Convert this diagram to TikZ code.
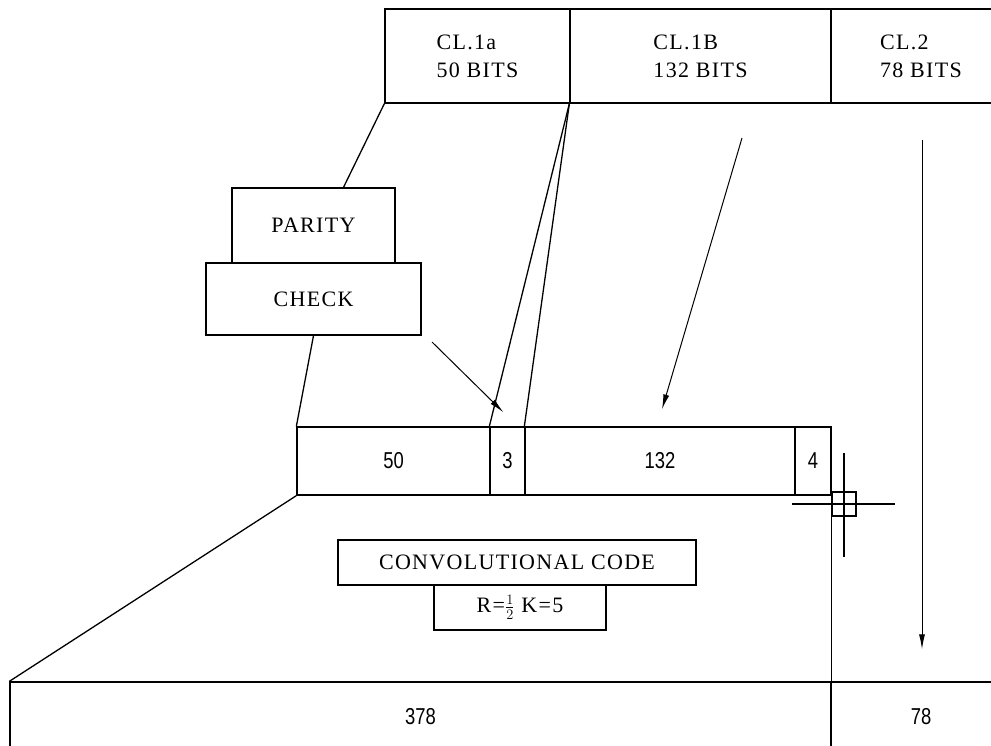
\documentclass[tikz,border=0pt]{standalone}
\usepackage{fontspec}
\setmainfont[LetterSpace=6]{Liberation Serif}
\newfontfamily\numfont[FakeStretch=0.8]{Liberation Sans}
\usetikzlibrary{arrows.meta,positioning,calc}

\begin{document}
\begin{tikzpicture}[x=1pt, y=-1pt,
    field/.style={draw, line width=1.3pt, inner sep=0pt, align=left,
      font=\fontsize{22}{28}\selectfont},
    cell/.style={draw, line width=1.3pt, inner sep=0pt, minimum height=68pt,
      font=\numfont\fontsize{23}{26}\selectfont},
    tag/.style={draw, line width=1.3pt, inner sep=0pt,
      font=\fontsize{22}{26}\selectfont},
    link/.style={line width=1.3pt},
    arr/.style={-{Latex[length=15pt,width=6pt]}, line width=1pt},
  ]
  \useasboundingbox (0,0) rectangle (991,746);
  \clip (0,0) rectangle (991,746);

  % Top: speech classes
  \node[field, minimum width=185pt, minimum height=94pt] (cla) at (477.5,56)
    {CL.1a\\50 BITS};
  \node[field, minimum width=261pt, minimum height=94pt] (clb) at (700.5,56)
    {CL.1B\\132 BITS};
  \node[field, minimum width=180pt, minimum height=94pt] (clc) at (921,56)
    {CL.2\\78 BITS};

  % Parity check
  \node[tag, minimum width=163pt, minimum height=75pt] (parity) at (313.5,225.5)
    {PARITY};
  \node[tag, minimum width=215pt, minimum height=72pt] (check) at (313.5,299)
    {CHECK};

  % Middle: coder input
  \node[cell, minimum width=193pt] (b50)  at (393.5,461) {50};
  \node[cell, minimum width=35pt]  (b3)   at (507.5,461) {3};
  \node[cell, minimum width=270pt] (b132) at (660,461)   {132};
  \node[cell, minimum width=36pt]  (b4)   at (813,461)   {4};

  % Convolutional code
  \node[tag, minimum width=358pt, minimum height=45pt] (conv) at (517,562.5)
    {CONVOLUTIONAL CODE};
  \node[tag, minimum width=172pt, minimum height=45pt] (rate) at (520,607.5)
    {R=$\frac{1}{2}$ K=5};

  % Bottom: coded frame
  \node[cell, minimum width=821pt, minimum height=70pt] (b378) at (420.5,717) {378};
  \node[cell, minimum width=180pt, minimum height=70pt] (b78)  at (921,717)   {78};

  % Connectors
  \draw[link] (cla.south west) -- ([xshift=30pt]parity.north);
  \draw[link] (check.south) -- (b50.north west);
  \draw[link] (clb.south west) -- (b3.north west);
  \draw[link] (clb.south west) -- (b132.north west);
  \draw[link] (b50.south west) -- (b378.north west);
  \draw[link] (b4.south east) -- (b378.north east);

  % Arrows
  \coordinate (pc) at (432,342);
  \coordinate (cb) at (742,138);
  \coordinate (cc) at (922,140);
  \draw[arr] (pc) -- ([xshift=-4pt,yshift=14pt]b3.north);
  \draw[arr] (cb) -- ([xshift=2pt,yshift=17pt]b132.north);
  \draw[arr] (cc) -- ([xshift=1pt,yshift=32pt]b78.north);

  % Cursor
  \coordinate (cursor) at (844,504);
  \draw[link] ([shift={(-12,-12)}]cursor) rectangle ([shift={(12,12)}]cursor);
  \draw[link] ([xshift=-52pt]cursor) -- ([xshift=51pt]cursor);
  \draw[link] ([yshift=51pt]cursor) -- ([yshift=-53pt]cursor);
\end{tikzpicture}
\end{document}
